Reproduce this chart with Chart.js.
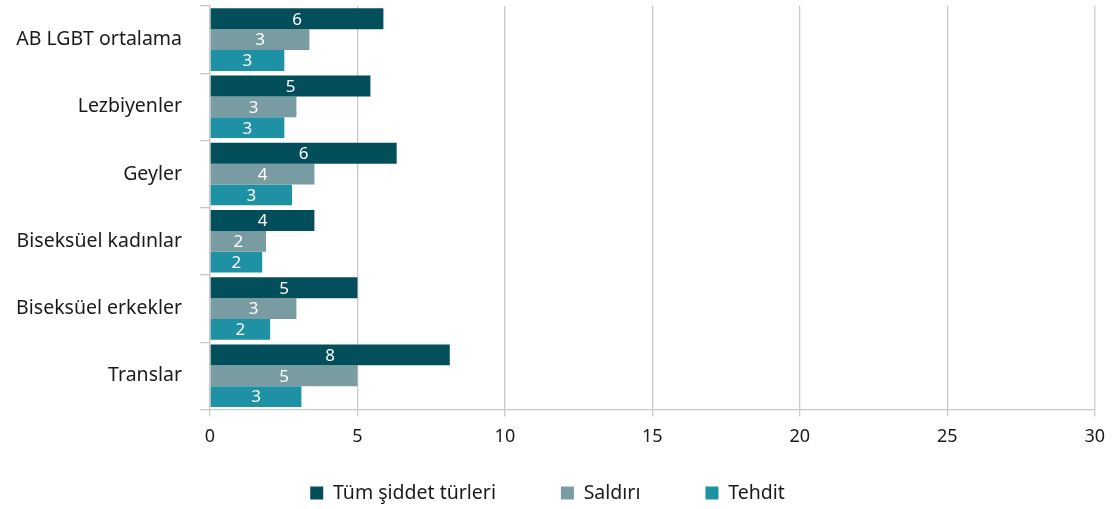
<!DOCTYPE html>
<html>
<head>
<meta charset="utf-8">
<script src="https://cdn.jsdelivr.net/npm/chart.js@4/dist/chart.umd.min.js"></script>
<style>
  html, body { margin: 0; padding: 0; background: #fff; }
  #wrap { width: 1115px; height: 509px; }
</style>
</head>
<body>
<div id="wrap"><canvas id="violenceChart"></canvas></div>
<script>
var categories = ["AB LGBT ortalama", "Lezbiyenler", "Geyler", "Biseksüel kadınlar", "Biseksüel erkekler", "Translar"];
var allViolence = [5.88, 5.44, 6.33, 3.54, 5.0, 8.13];
var assault = [3.37, 2.93, 3.54, 1.90, 2.93, 5.0];
var threat = [2.52, 2.52, 2.78, 1.77, 2.04, 3.10];
var seriesNames = ["Tüm şiddet türleri", "Saldırı", "Tehdit"];
var xTicks = [0, 5, 10, 15, 20, 25, 30];

var fontFamily = "'Noto Sans', 'Open Sans', sans-serif";
var legendPad = 65;
var legendFont = 19.5;

// white rounded values in the middle of each bar
var barLabels = {
  id: 'barLabels',
  afterDatasetsDraw: function(chart) {
    var ctx = chart.ctx;
    ctx.save();
    ctx.fillStyle = '#ffffff';
    ctx.font = '17px ' + fontFamily;
    ctx.textAlign = 'center';
    ctx.textBaseline = 'middle';
    chart.data.datasets.forEach(function(ds, i) {
      chart.getDatasetMeta(i).data.forEach(function(bar, j) {
        var mid = (bar.x + bar.base) / 2;
        ctx.fillText(Math.round(ds.data[j]), mid, bar.y + 1);
      });
    });
    ctx.restore();
  }
};

// the wide legend padding pushes the row down, pull it back up
var legendShift = {
  id: 'legendShift',
  afterLayout: function(chart) {
    chart.legend.top = 493 - legendPad - legendFont / 2;
  }
};

var el = document.getElementById("violenceChart");
var chart = new Chart(el, {
  type: 'bar',
  data: {
    labels: categories,
    datasets: [
      { label: seriesNames[0], data: allViolence, backgroundColor: '#024f5b' },
      { label: seriesNames[1], data: assault, backgroundColor: '#789ca2' },
      { label: seriesNames[2], data: threat, backgroundColor: '#1e91a5' }
    ]
  },
  options: {
    indexAxis: 'y',
    responsive: true,
    maintainAspectRatio: false,
    animation: false,
    categoryPercentage: 0.93,
    barPercentage: 1.0,
    layout: { padding: { top: 6, right: 20, left: 0, bottom: 0 } },
    scales: {
      x: {
        min: 0,
        max: 30,
        afterBuildTicks: function(scale) {
          scale.ticks = xTicks.map(function(v) { return { value: v }; });
        },
        grid: { color: '#c9c9c9', lineWidth: 1.3, tickLength: 7 },
        border: { color: '#c9c9c9', width: 1.3 },
        ticks: { color: '#1a1a1a', font: { size: 18, family: fontFamily }, padding: 10 }
      },
      y: {
        afterFit: function(scale) {
          scale.width = 210;
          scale.paddingTop = 0;
          scale.paddingBottom = 0;
        },
        grid: { offset: true, drawOnChartArea: false, color: '#c9c9c9', lineWidth: 1.3, tickLength: 10 },
        border: { color: '#c9c9c9', width: 1.3 },
        ticks: { color: '#1a1a1a', font: { size: 19.5, family: fontFamily }, padding: 18 }
      }
    },
    plugins: {
      legend: {
        position: 'bottom',
        maxHeight: 51,
        labels: {
          color: '#1a1a1a',
          boxWidth: 13,
          boxHeight: 13,
          padding: legendPad,
          font: { size: legendFont, family: fontFamily }
        }
      },
      tooltip: { enabled: false }
    }
  },
  plugins: [barLabels, legendShift]
});
</script>
</body>
</html>
